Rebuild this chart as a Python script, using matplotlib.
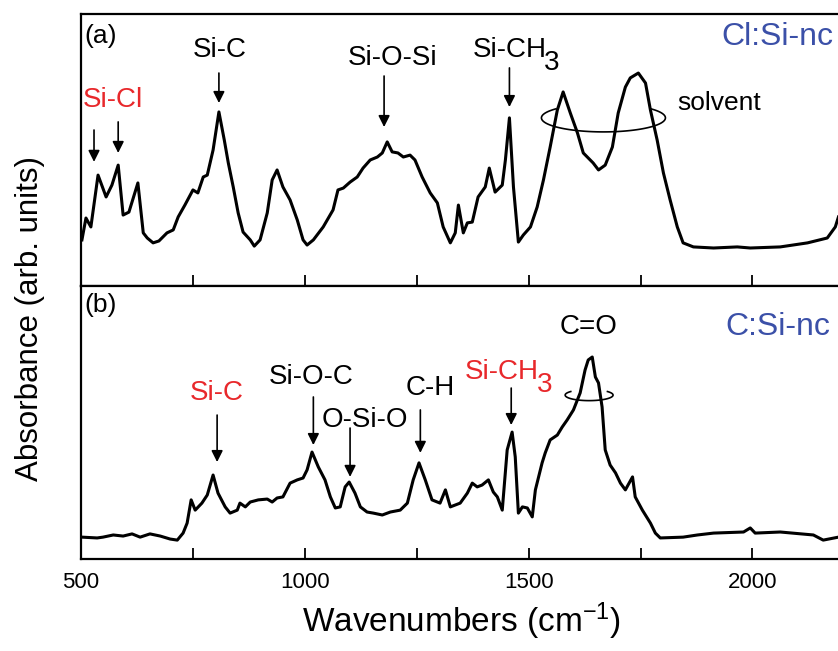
import matplotlib
matplotlib.use('Agg')
import matplotlib.pyplot as plt
import numpy as np
from matplotlib.ticker import MultipleLocator

plt.rcParams['font.family'] = ['Liberation Sans', 'DejaVu Sans']
plt.rcParams['mathtext.default'] = 'regular'

# FTIR spectrum of Cl:Si-nc (panel a)
wn_cl = [502, 511, 522, 538, 556, 569, 583, 594, 607, 627, 639, 648, 661, 674, 692,
         706, 717, 732, 750, 761, 773, 782, 795, 808, 820, 829, 840, 851, 862, 878,
         887, 900, 916, 927, 938, 951, 967, 983, 996, 1005, 1019, 1041, 1063, 1074,
         1086, 1101, 1117, 1130, 1146, 1162, 1173, 1184, 1195, 1208, 1220, 1235, 1246,
         1262, 1280, 1296, 1309, 1325, 1336, 1343, 1354, 1363, 1374, 1387, 1403, 1412,
         1425, 1441, 1448, 1457, 1466, 1477, 1488, 1504, 1519, 1533, 1548, 1564, 1577,
         1593, 1609, 1622, 1644, 1656, 1671, 1687, 1700, 1716, 1727, 1745, 1761, 1772,
         1787, 1801, 1816, 1832, 1845, 1868, 1913, 1966, 1995, 2062, 2123, 2167, 2185,
         2192]
abs_cl = [0.167, 0.248, 0.215, 0.407, 0.326, 0.370, 0.444, 0.259, 0.270, 0.378, 0.193,
          0.174, 0.156, 0.163, 0.193, 0.204, 0.252, 0.296, 0.352, 0.341, 0.400, 0.407,
          0.500, 0.641, 0.537, 0.452, 0.363, 0.267, 0.196, 0.167, 0.144, 0.167, 0.267,
          0.389, 0.426, 0.363, 0.315, 0.241, 0.167, 0.148, 0.167, 0.215, 0.278, 0.352,
          0.359, 0.381, 0.400, 0.433, 0.463, 0.474, 0.489, 0.530, 0.493, 0.489, 0.474,
          0.481, 0.463, 0.400, 0.341, 0.304, 0.215, 0.156, 0.193, 0.296, 0.193, 0.230,
          0.233, 0.326, 0.363, 0.433, 0.344, 0.370, 0.463, 0.619, 0.363, 0.159, 0.185,
          0.215, 0.289, 0.389, 0.511, 0.648, 0.715, 0.637, 0.563, 0.489, 0.452, 0.426,
          0.444, 0.511, 0.637, 0.733, 0.767, 0.785, 0.748, 0.648, 0.537, 0.415, 0.315,
          0.215, 0.156, 0.141, 0.137, 0.141, 0.137, 0.141, 0.156, 0.174, 0.215, 0.252]

# FTIR spectrum of C:Si-nc (panel b)
wn_c = [502, 536, 549, 572, 594, 614, 632, 654, 677, 699, 715, 728, 737, 746, 755, 770,
        782, 795, 806, 822, 833, 849, 855, 867, 878, 896, 916, 927, 938, 951, 967, 983,
        996, 1005, 1016, 1030, 1045, 1057, 1068, 1079, 1090, 1099, 1112, 1124, 1139,
        1153, 1173, 1191, 1213, 1229, 1242, 1255, 1269, 1284, 1302, 1314, 1325, 1347,
        1363, 1374, 1385, 1396, 1410, 1421, 1430, 1441, 1452, 1463, 1470, 1477, 1486,
        1497, 1508, 1515, 1530, 1537, 1548, 1564, 1575, 1586, 1600, 1615, 1626, 1633,
        1642, 1649, 1656, 1664, 1671, 1682, 1694, 1705, 1716, 1732, 1738, 1754, 1772,
        1783, 1794, 1845, 1877, 1913, 1980, 1995, 2006, 2062, 2136, 2158, 2192]
abs_c = [0.081, 0.078, 0.081, 0.089, 0.085, 0.093, 0.081, 0.093, 0.085, 0.074, 0.070,
         0.096, 0.133, 0.219, 0.181, 0.207, 0.237, 0.311, 0.244, 0.193, 0.170, 0.181,
         0.207, 0.193, 0.211, 0.219, 0.222, 0.211, 0.226, 0.230, 0.281, 0.293, 0.300,
         0.330, 0.396, 0.341, 0.293, 0.230, 0.189, 0.193, 0.267, 0.285, 0.244, 0.193,
         0.174, 0.170, 0.163, 0.174, 0.181, 0.207, 0.293, 0.356, 0.293, 0.219, 0.207,
         0.256, 0.193, 0.207, 0.244, 0.281, 0.267, 0.274, 0.293, 0.248, 0.230, 0.181,
         0.404, 0.470, 0.378, 0.170, 0.193, 0.189, 0.156, 0.256, 0.356, 0.393, 0.441,
         0.459, 0.489, 0.515, 0.552, 0.615, 0.700, 0.737, 0.748, 0.674, 0.652, 0.563,
         0.404, 0.348, 0.319, 0.281, 0.256, 0.304, 0.230, 0.181, 0.133, 0.096, 0.078,
         0.081, 0.089, 0.096, 0.100, 0.115, 0.096, 0.100, 0.089, 0.070, 0.081]

red = '#e8282b'
blue = '#3b50a8'
lbl_size = 20

fig = plt.figure(figsize=(8.38, 6.51), dpi=100)
ax1 = fig.add_axes([0.0967, 0.5607, 0.9081, 0.4178])
ax2 = fig.add_axes([0.0967, 0.1413, 0.9081, 0.4194])

for ax in (ax1, ax2):
    ax.set_xlim(500, 2200)
    ax.xaxis.set_major_locator(MultipleLocator(500))
    ax.xaxis.set_minor_locator(MultipleLocator(250))
    ax.tick_params(axis='x', which='both', direction='in', length=8, width=1.3,
                   labelsize=16, pad=9)
    ax.tick_params(axis='y', left=False, labelleft=False)
    for sp in ax.spines.values():
        sp.set_linewidth(1.6)

ax1.set_ylim(-0.0037, 1.0037)
ax2.set_ylim(0, 1.011)
ax1.tick_params(axis='x', labelbottom=False)

ax1.plot(wn_cl, abs_cl, color='k', lw=2.2)
ax2.plot(wn_c, abs_c, color='k', lw=2.2)

arrow = dict(arrowstyle='-|>', color='k', lw=1.2, mutation_scale=17,
             shrinkA=0, shrinkB=0)


def mark(ax, label, xy_text, x_arrow, y0, y1, color='k'):
    ax.text(xy_text[0], xy_text[1], label, color=color, fontsize=lbl_size,
            ha='center', va='center')
    ax.annotate('', xy=(x_arrow, y1), xytext=(x_arrow, y0), arrowprops=arrow)


def methyl(ax, x_left, y, x_arrow, y0, y1, color='k'):
    # "Si-CH" with a full-size lowered "3"
    ax.text(x_left, y, 'Si-CH', color=color, fontsize=lbl_size, ha='left', va='center')
    ax.annotate('3', xy=(x_left, y), xytext=(51.8, -9.5), textcoords='offset points',
                color=color, fontsize=lbl_size, ha='left', va='center')
    ax.annotate('', xy=(x_arrow, y1), xytext=(x_arrow, y0), arrowprops=arrow)


def loop(ax, cx, cy, w, h):
    # open ellipse around a band, back part left out
    t = np.radians(np.linspace(140, 400, 120))
    ax.plot(cx + w / 2 * np.cos(t), cy + h / 2 * np.sin(t), color='k', lw=1.2)


# panel (a)
ax1.text(0.005, 0.92, '(a)', transform=ax1.transAxes, fontsize=19, va='center')
ax1.text(0.988, 0.915, 'Cl:Si-nc', transform=ax1.transAxes, fontsize=23,
         color=blue, ha='right', va='center')
ax1.text(572, 0.685, 'Si-Cl', color=red, fontsize=lbl_size, ha='center', va='center')
ax1.annotate('', xy=(529, 0.456), xytext=(529, 0.574), arrowprops=arrow)
ax1.annotate('', xy=(583, 0.489), xytext=(583, 0.604), arrowprops=arrow)
mark(ax1, 'Si-C', (811, 0.870), 808, 0.785, 0.674)
mark(ax1, 'Si-O-Si', (1195, 0.841), 1177, 0.774, 0.585)
methyl(ax1, 1374, 0.870, 1457, 0.804, 0.659)
loop(ax1, 1667, 0.619, 277, 0.104)
ax1.text(1832, 0.674, 'solvent', fontsize=19, va='center')

# panel (b)
ax2.text(0.005, 0.93, '(b)', transform=ax2.transAxes, fontsize=19, va='center')
ax2.text(0.984, 0.85, 'C:Si-nc', transform=ax2.transAxes, fontsize=23,
         color=blue, ha='right', va='center')
mark(ax2, 'Si-C', (804, 0.615), 804, 0.533, 0.359, color=red)
mark(ax2, 'Si-O-C', (1014, 0.674), 1019, 0.600, 0.422)
ax2.text(1133, 0.515, 'O-Si-O', fontsize=lbl_size, ha='center', va='center')
ax2.annotate('', xy=(1101, 0.304), xytext=(1101, 0.485), arrowprops=arrow)
mark(ax2, 'C-H', (1280, 0.633), 1258, 0.552, 0.393)
methyl(ax2, 1358, 0.693, 1461, 0.633, 0.496, color=red)
ax2.text(1633, 0.859, 'C=O', fontsize=lbl_size, ha='center', va='center')
loop(ax2, 1635, 0.607, 107, 0.041)

ax2.set_xlabel('Wavenumbers (cm$^{-1}$)', fontsize=24, labelpad=6)
fig.text(0.036, 0.51, 'Absorbance (arb. units)', rotation=90, fontsize=22.5,
         ha='center', va='center')

fig.savefig('out.png', dpi=100)
